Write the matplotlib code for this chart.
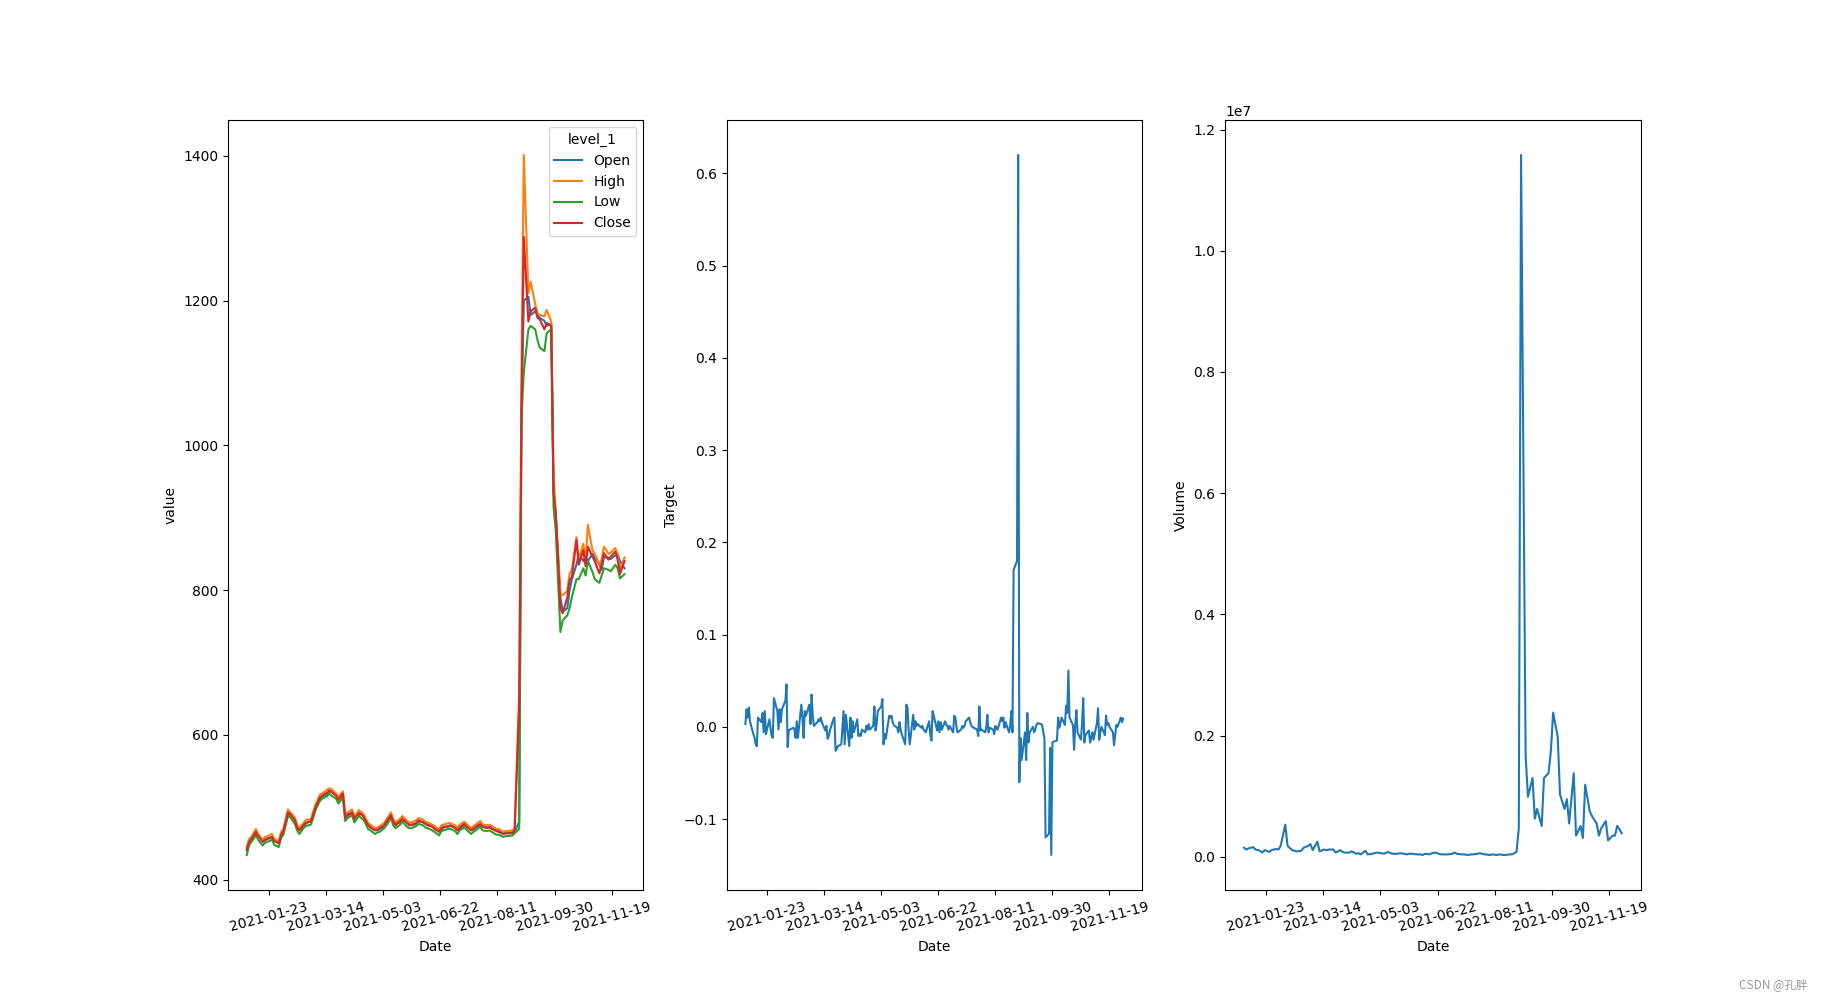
import matplotlib
matplotlib.use("Agg")
import matplotlib.pyplot as plt
import matplotlib.dates as mdates
from matplotlib.ticker import MultipleLocator
import pandas as pd

# trading dates: every business day (Target) and every other business day (prices, volume)
dates_daily = pd.bdate_range("2021-01-04", "2021-12-01")
dates = dates_daily[::2]

open_ = [440,449,455,463,462, 454,454,456,458,456, 451,459,465,489,491, 484,474,469,474,478,
         481,488,498,511,515, 518,521,523,518,512, 516,488,488,492,487, 490,491,488,477,473,
         469,468,470,473,478, 486,483,477,479,483, 480,476,475,477,480, 480,478,476,474,471,
         468,469,472,473,474, 472,470,470,475,475, 470,469,472,475,475, 472,472,471,468,467,
         465,464,464,464,466, 480,1050,1200,1205,1180, 1185,1180,1176,1172,1165, 1168,935,900,790,770,
         775,800,815,835,850, 840,845,840,850,845, 835,828,845,845,843, 848,850,840,830]
high = [445,456,459,470,463, 455,459,460,463,456, 453,466,470,497,493, 486,475,472,479,483,
        483,494,503,518,519, 524,526,525,519,514, 522,489,493,497,487, 496,493,491,478,476,
        471,472,474,478,483, 493,483,479,484,488, 481,479,479,482,485, 483,480,479,476,474,
        469,475,476,478,478, 475,471,476,480,477, 471,474,476,481,476, 475,476,474,470,470,
        466,467,467,468,471, 660,1100,1401,1210,1226, 1195,1182,1180,1178,1187, 1171,960,903,795,793,
        799,823,827,873,842, 864,842,890,855,850, 835,842,860,850,852, 858,850,828,845]
low = [434,447,452,461,455, 447,451,452,455,448, 445,458,462,488,486, 477,468,463,472,474,
       476,485,496,509,512, 515,519,516,512,505, 514,481,485,489,479, 488,485,483,470,468,
       463,465,466,471,475, 485,475,471,476,480, 473,471,471,474,477, 475,472,471,468,466,
       461,467,468,470,470, 467,463,468,472,469, 463,466,468,473,468, 467,468,466,462,462,
       459,460,460,461,464, 470,1040,1100,1160,1165, 1160,1145,1135,1130,1155, 1160,915,880,742,758,
       765,775,790,815,815, 830,820,840,825,815, 810,820,830,828,826, 835,830,816,822]
close = [442,452,456,466,460, 452,455,457,459,453, 450,462,467,493,490, 482,472,468,476,479,
         480,490,500,514,516, 520,523,521,516,510, 519,485,490,493,484, 492,490,487,475,472,
         468,469,471,475,480, 489,480,475,481,484, 478,475,476,478,482, 479,477,475,473,470,
         466,471,473,474,475, 471,468,472,477,473, 468,470,473,477,473, 471,473,470,467,466,
         463,464,464,465,468, 640,1053,1288,1171,1185, 1190,1176,1174,1160,1169, 1165,934,906,775,768,
         790,814,818,869,835, 855,833,860,846,840, 823,835,851,842,846, 853,842,822,840]

target = [
    # Jan - mid May
    0.003,0.019,0.010,0.021,0.006,-0.008,-0.012,-0.019,-0.021,0.010,
    0.005,0.015,-0.006,0.017,-0.008,0.008,-0.001,-0.010,-0.012,0.031,
    0.017,-0.003,0.019,0.005,0.019,0.028,0.046,-0.022,-0.004,-0.003,
    -0.001,-0.003,-0.012,0.006,-0.012,0.024,0.010,-0.012,0.017,0.012,
    0.024,0.003,0.035,0.012,0.001,0.005,0.008,0.006,0.010,0.005,
    -0.004,0.001,-0.013,-0.010,-0.004,0.008,0.010,-0.026,-0.024,-0.021,
    -0.019,-0.001,0.017,-0.019,0.013,-0.021,0.010,-0.012,0.006,-0.006,
    0.008,-0.010,-0.008,-0.010,-0.003,-0.006,0.001,-0.003,0.003,-0.003,
    0.001,
    # late May - Aug 26
    0.022,-0.004,0.003,0.017,0.022,0.030,-0.019,-0.008,-0.013,0.012,
    0.010,0.012,0.005,0.002,-0.001,-0.006,0.005,-0.003,-0.008,-0.019,
    0.024,0.021,-0.004,-0.019,0.013,-0.003,0.006,0.001,0.003,-0.001,
    0.001,-0.003,-0.004,-0.006,0.006,-0.008,-0.015,0.017,0.012,-0.004,
    0.006,-0.006,0.005,-0.003,0.006,0.002,0.001,-0.003,0.001,-0.006,
    0.012,0.010,-0.001,-0.006,-0.003,0.001,-0.001,0.001,0.006,0.010,
    0.005,0.001,0.000,-0.001,-0.003,-0.010,0.022,-0.004,-0.003,-0.006,
    -0.001,0.013,-0.006,-0.001,-0.003,-0.008,0.001,-0.002,-0.003,0.010,
    0.006,0.010,-0.001,0.005,-0.006,0.001,0.017,-0.006,
    # Aug 27 - Dec 1
    0.17,0.18,0.62,-0.06,-0.012,-0.036,-0.006,-0.036,0.015,-0.017,
    -0.006,0.000,-0.006,-0.003,0.002,0.004,0.003,0.002,-0.006,-0.012,
    -0.12,-0.116,-0.023,-0.139,-0.017,-0.016,-0.015,0.010,-0.001,0.004,
    0.010,0.002,0.023,0.015,0.061,0.010,0.002,-0.025,0.002,0.018,
    -0.006,-0.014,0.004,0.031,-0.017,-0.009,-0.004,-0.017,-0.012,-0.006,
    -0.014,0.004,0.020,-0.014,-0.006,0.000,-0.009,0.012,0.002,0.004,
    0.000,-0.006,-0.020,-0.009,0.002,0.000,0.010,0.005,0.009]

volume_1e7 = [0.015,0.012,0.014,0.016,0.012, 0.010,0.007,0.011,0.008,0.011,
              0.013,0.012,0.018,0.053,0.018, 0.011,0.010,0.009,0.010,0.015,
              0.018,0.021,0.011,0.025,0.009, 0.012,0.011,0.012,0.012,0.007,
              0.011,0.008,0.007,0.007,0.009, 0.005,0.006,0.004,0.010,0.004,
              0.005,0.006,0.007,0.006,0.005, 0.008,0.006,0.005,0.005,0.006,
              0.005,0.004,0.005,0.005,0.004, 0.004,0.003,0.005,0.004,0.006,
              0.007,0.005,0.004,0.004,0.004, 0.005,0.007,0.005,0.004,0.004,
              0.003,0.004,0.004,0.005,0.006, 0.004,0.004,0.003,0.004,0.003,
              0.004,0.003,0.003,0.004,0.004, 0.008,0.047,1.158,0.166,0.099,
              0.13,0.063,0.079,0.051,0.13, 0.138,0.174,0.238,0.198,0.103,
              0.079,0.095,0.055,0.138,0.035, 0.051,0.031,0.119,0.075,0.067,
              0.055,0.035,0.047,0.059,0.027, 0.035,0.035,0.051,0.039]

series_names = ["Open", "High", "Low", "Close"]

fig, axes = plt.subplots(1, 3, figsize=(18.23, 10), dpi=100)
x = mdates.date2num(dates.to_pydatetime())
x_daily = mdates.date2num(dates_daily.to_pydatetime())

ax = axes[0]
for name, vals in zip(series_names, [open_, high, low, close]):
    ax.plot(x, vals, label=name)
ax.set_ylabel("value")
ax.legend(title="level_1", loc="upper right")

axes[1].plot(x_daily, target)
axes[1].set_ylabel("Target")

axes[2].plot(x, [v * 1e7 for v in volume_1e7])
axes[2].set_ylabel("Volume")

for a in axes:
    a.xaxis.set_major_locator(MultipleLocator(50))
    a.xaxis.set_major_formatter(mdates.DateFormatter("%Y-%m-%d"))
    a.tick_params(axis="x", labelrotation=15)
    a.set_xlabel("Date")

fig.text(0.9915, 0.0152, "CSDN @孔胖", ha="right", va="center", fontsize=8.5,
         color="#9a9a9a", family=["Noto Sans CJK SC", "DejaVu Sans"])

fig.savefig("out.png", dpi=100)
